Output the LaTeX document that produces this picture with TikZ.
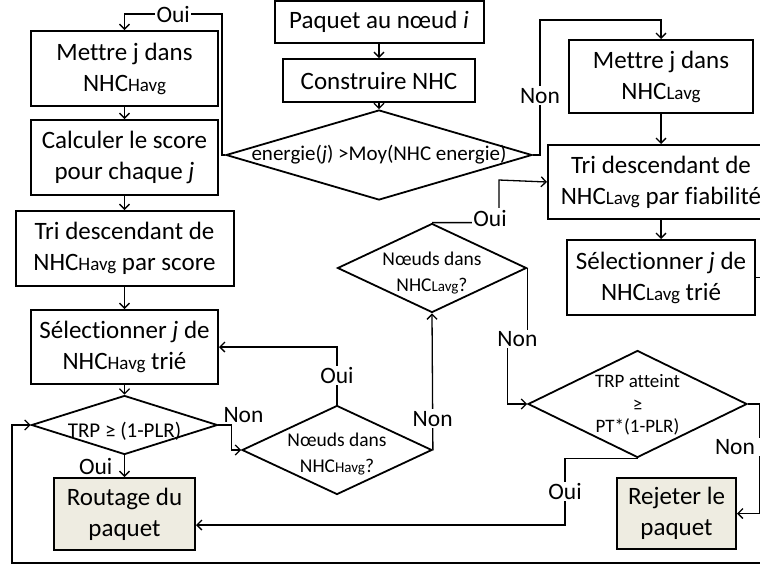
\documentclass[tikz,border=0pt]{standalone}
\usepackage{fontspec}
\setmainfont{Carlito}[Ligatures=NoCommon]
\usepackage{tikz}
\usetikzlibrary{arrows.meta,positioning,shapes.geometric}
\definecolor{beige}{HTML}{EEECE1}
\newcommand{\lsub}[2][19]{{\fontsize{#1}{#1}\selectfont #2}}

\begin{document}
\begin{tikzpicture}[
  x=1pt, y=-1pt,
  font=\fontsize{25}{31}\selectfont,
  box/.style={draw, line width=2pt, align=center, inner sep=2pt},
  final/.style={box, fill=beige},
  decision/.style={draw, diamond, line width=1.8pt, inner sep=0pt},
  dtext/.style={align=center, inner sep=0pt, font=\fontsize{19.5}{26}\selectfont},
  lbl/.style={fill=white, inner sep=1.5pt, font=\fontsize{23.5}{28}\selectfont},
  flow/.style={-{Straight Barb[length=5pt,width=10pt]}, line width=1.3pt}
]
\useasboundingbox (0,0) rectangle (760,566);
\clip (0,0) rectangle (760,566);

% centre
\node[box, minimum width=209pt, minimum height=42pt] (paquet) at (379,22) {Paquet au nœud \textit{i}};
\node[box, minimum width=192pt, minimum height=43pt, below=14pt of paquet] (construire) {Construire NHC};
\node[decision, minimum width=306pt, minimum height=90pt] (energie) at (379,155) {};
\node[dtext, font=\fontsize{21}{26}\selectfont] at (energie) {energie(\textit{j}) >Moy(NHC energie)};

% colonne gauche
\node[box, minimum width=187pt, minimum height=75pt] (mettreH) at (124.5,68.5) {Mettre j dans\\NHC\lsub{Havg}};
\node[box, minimum width=187pt, minimum height=75pt, below=12pt of mettreH] (calculer) {Calculer le score\\pour chaque \textit{j}};
\node[box, minimum width=218pt, minimum height=75pt, below=14pt of calculer] (triH) {Tri descendant de\\NHC\lsub{Havg} par score};
\node[box, minimum width=187pt, minimum height=74pt, below=22pt of triH] (selectH) {Sélectionner \textit{j} de\\NHC\lsub{Havg} trié};
\node[decision, minimum width=186pt, minimum height=59pt] (trpTest) at (124.5,425) {};
\node[dtext, font=\fontsize{21}{26}\selectfont] at (124.5,431) {TRP ≥ (1-PLR)};
\node[final, minimum width=141pt, minimum height=72pt] (routage) at (124.5,514) {Routage du\\paquet};

% milieu
\node[decision, minimum width=190pt, minimum height=89pt] (havgTest) at (337,450) {};
\node[dtext] at (337,454) {Nœuds dans\\NHC\lsub[15]{Havg}?};
\node[decision, minimum width=189pt, minimum height=89pt] (lavgTest) at (432,268) {};
\node[dtext] at (432,273) {Nœuds dans\\NHC\lsub[15]{Lavg}?};

% colonne droite
\node[box, minimum width=184pt, minimum height=73pt] (mettreL) at (661,76.5) {Mettre j dans\\NHC\lsub{Lavg}};
\node[box, minimum width=226pt, minimum height=74pt, below=30pt of mettreL] (triL) {Tri descendant de\\NHC\lsub{Lavg} par fiabilité};
\node[box, minimum width=188pt, minimum height=75pt, below=19pt of triL] (selectL) {Sélectionner \textit{j} de\\NHC\lsub{Lavg} trié};
\node[decision, minimum width=219pt, minimum height=107pt] (trpAtteint) at (637.5,404) {};
\node[dtext, font=\fontsize{19}{22.5}\selectfont] at (637.5,405) {TRP atteint\\≥\\PT*(1-PLR)};
\node[final, minimum width=119pt, minimum height=71pt] (rejeter) at (676.5,513.5) {Rejeter le\\paquet};

\coordinate (ouiCorner) at (222,14);
\coordinate (nonCorner) at (540,20);
\coordinate (ouiBend) at (499,180);
\coordinate (ouiDrop) at (565,525);
\coordinate (loopCorner) at (12,563);

\draw[flow] (paquet) -- (construire);
\draw[flow] (construire) -- (energie);
\draw[flow] (energie.west) -| (ouiCorner) -- node[lbl]{Oui} (mettreH.north |- ouiCorner) -- (mettreH.north);
\draw[flow] (energie.east) -| node[lbl, pos=0.72]{Non} (nonCorner) -| (mettreL.north);

\draw[flow] (mettreH) -- (calculer);
\draw[flow] (calculer) -- (triH.north -| calculer);
\draw[flow] (triH.south -| selectH) -- (selectH);
\draw[flow] (selectH) -- (trpTest);
\draw[flow] (trpTest) -- node[lbl, left=10pt]{Oui} (routage);
\draw[flow] (trpTest.east) node[lbl, anchor=south west, xshift=3pt]{Non} -- ++(13,0) |- (havgTest.west);
\draw[flow] (havgTest.north) |- node[lbl, pos=0.25]{Oui} (selectH.east);
\draw[flow] (havgTest.east) -- node[lbl, pos=0.23]{Non} (lavgTest.south);
\draw[flow] (lavgTest.north) -| (ouiBend) -- (triL.west);
\node[lbl] at (490,218) {Oui};
\draw[flow] (lavgTest.east) -- ++(0,71) -- node[lbl]{Non} ++(-20,0) |- (trpAtteint.west);

\draw[flow] (mettreL) -- (triL);
\draw[flow] (triL) -- (selectL);
\draw[flow] (trpAtteint.east) -- ++(12,0) |- (rejeter.east);
\node[lbl, inner xsep=14pt] at (735,447) {Non};
\draw[flow] (trpAtteint.south) -| node[lbl, pos=0.75]{Oui} (ouiDrop) -- (routage.east |- ouiDrop);
\draw[flow] (selectL.east) -- ++(20,0) |- (loopCorner) |- (trpTest.west);
\end{tikzpicture}
\end{document}
